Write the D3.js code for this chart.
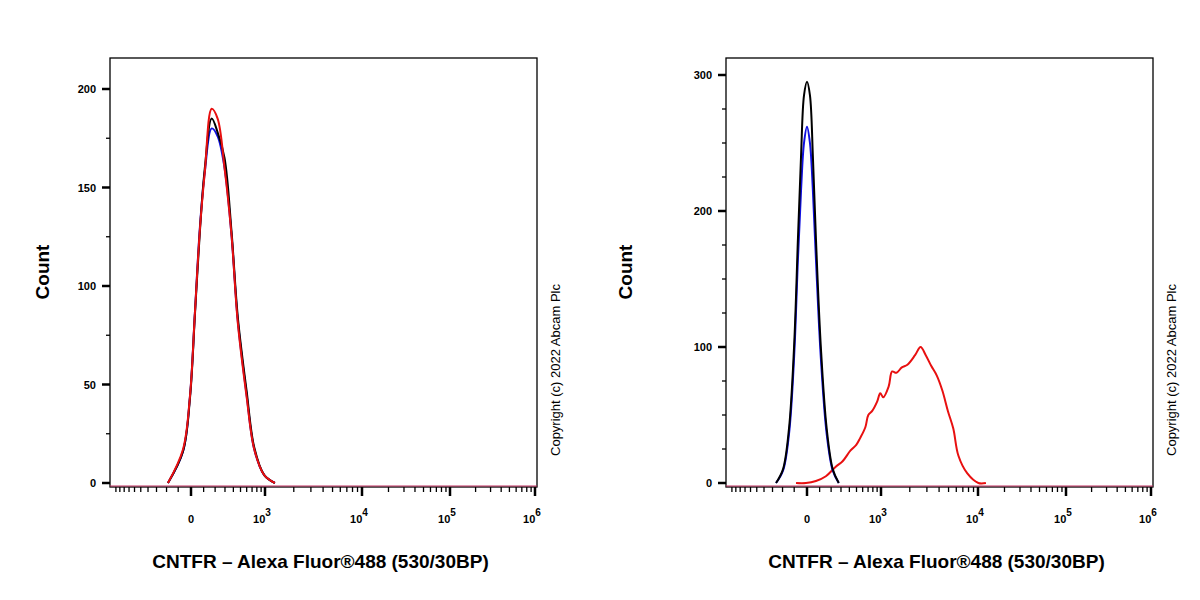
<!DOCTYPE html>
<html><head><meta charset="utf-8">
<script src="https://cdn.jsdelivr.net/npm/d3@7"></script>
<style>body{margin:0;background:#fff}</style></head>
<body><svg id="c" width="1200" height="600"></svg>
<script>
// Panel 1 histograms: [fluorescence, count]
const leftRed = [[-187,0],[-62,17],[-8,44],[31,87],[70,129],[110,158],[169,190],[224,185],[295,160],[376,126],[461,81],[598,44],[745,17],[980,4],[1272,0]];
const leftBlack = [[-187,0],[-62,16],[-8,43],[31,86],[70,128],[110,160],[169,185],[224,178],[295,165],[376,128],[461,84],[598,47],[745,18],[980,4],[1272,0]];
const leftBlue = [[-187,0],[-62,16],[-8,44],[31,87],[70,130],[110,158],[169,180],[224,176],[295,160],[376,126],[461,82],[598,45],[745,17],[980,4],[1272,0]];
// Panel 2 histograms
const rightBlack = [[-263,0],[-196,10],[-143,40],[-101,100],[-70,180],[-46,240],[-23,285],[0,295],[23,285],[46,240],[70,180],[110,100],[160,40],[216,10],[276,0]];
const rightBlue = [[-263,0],[-196,9],[-143,36],[-101,92],[-70,165],[-46,215],[-23,250],[0,262],[23,250],[46,215],[70,165],[110,92],[160,36],[216,9],[276,0]];
const rightRed = [[-85,0],[-8,0],[70,1.5],[153,5],[245,12],[318,16],[416,24],[496,28],[557,33],[648,41],[705,50],[786,53],[903,60],[980,66],[1056,63],[1206,71],[1311,82],[1452,81],[1656,85],[1890,87],[2267,94],[2583,100],[2920,94],[3330,86],[3790,79],[4320,68],[4920,53],[5590,40],[6310,20],[7780,7],[10100,0],[12300,0]];
const yTicksLeft = [0,50,100,150,200];
const yTicksRight = [0,100,200,300];
const xMajor = [0,1e3,1e4,1e5,1e6];
const xLabels = ["0","10|3","10|4","10|5","10|6"];
const xTitle = "CNTFR – Alexa Fluor®488 (530/30BP)";
const yTitle = "Count";
const copyright = "Copyright (c) 2022 Abcam Plc";

const svg = d3.select("#c");
const C = 300;
const T = v => Math.asinh(v / C);
const minor = [];
for (let m = 100; m <= 900; m += 100) { minor.push(m, -m); }
for (let e = 3; e < 6; e++) for (let k = 2; k <= 9; k++) minor.push(k * Math.pow(10, e));
minor.push(-1000);
const FONT = "Liberation Sans, Arial, sans-serif";

function panel(x0, countX, yMax, yMaxTick, yTicks, yMinorStep, series) {
  const x1 = x0 + 427, top = 58, bottom = 487;
  const xs = d3.scaleLinear().domain([-2.07, 0, T(1e3), T(1e4), T(1e5), T(1e6)])
    .range([x0, x0 + 81, x0 + 155, x0 + 252, x0 + 340, x0 + 425]);
  const x = v => xs(T(v));
  const ys = d3.scaleLinear().domain([0, yMaxTick]).range([483, 482 - (yMaxTick === 200 ? 393 : 407)]);
  const g = svg.append("g");
  g.append("rect").attr("x", x0).attr("y", top).attr("width", x1 - x0).attr("height", bottom - top)
    .attr("fill", "none").attr("stroke", "#000").attr("stroke-width", 1.3);
  for (let v = 0; v <= yMax; v += yMinorStep) {
    const maj = yTicks.includes(v);
    g.append("line").attr("x1", x0).attr("x2", x0 - (maj ? 8 : 4)).attr("y1", ys(v)).attr("y2", ys(v))
      .attr("stroke", "#000").attr("stroke-width", maj ? 2.5 : 1.3);
  }
  yTicks.forEach(v => g.append("text").attr("x", x0 - 14).attr("y", ys(v) + 4).attr("text-anchor", "end")
    .attr("font-family", FONT).attr("font-size", 11).attr("font-weight", "bold").attr("fill", "#000").text(v));
  minor.forEach(v => { if (T(v) >= -2.07) g.append("line").attr("x1", x(v)).attr("x2", x(v)).attr("y1", bottom).attr("y2", bottom + 5).attr("stroke", "#000").attr("stroke-width", 1.3); });
  xMajor.forEach((v, i) => {
    g.append("line").attr("x1", x(v)).attr("x2", x(v)).attr("y1", bottom).attr("y2", bottom + 9).attr("stroke", "#000").attr("stroke-width", 2.5);
    const parts = xLabels[i].split("|");
    const t = g.append("text").attr("x", x(v) + (parts[1] ? -3 : 0)).attr("y", 523).attr("text-anchor", "middle")
      .attr("font-family", FONT).attr("font-size", 11).attr("font-weight", "bold").attr("fill", "#000").text(parts[0]);
    if (parts[1]) t.append("tspan").attr("dy", -7).attr("font-size", 10).text(parts[1]);
  });
  const line = d3.line().x(d => x(d[0])).y(d => ys(d[1])).curve(d3.curveCatmullRom);
  g.append("line").attr("x1", x0).attr("x2", x1).attr("y1", 486).attr("y2", 486).attr("stroke", "#c03060").attr("stroke-width", 1);
  series.forEach(([data, col]) => g.append("path").attr("d", line(data)).attr("fill", "none").attr("stroke", col).attr("stroke-width", 2));
  g.append("text").attr("x", (x0 + x1) / 2 - 3).attr("y", 568).attr("text-anchor", "middle")
    .attr("font-family", FONT).attr("font-weight", "bold").attr("font-size", 19).attr("fill", "#000").text(xTitle);
  g.append("text").attr("transform", `translate(${countX},272) rotate(-90)`).attr("text-anchor", "middle")
    .attr("font-family", FONT).attr("font-weight", "bold").attr("font-size", 19).attr("fill", "#000").text(yTitle);
  g.append("text").attr("transform", `translate(${x1 + 23},370) rotate(-90)`).attr("text-anchor", "middle")
    .attr("font-family", FONT).attr("font-size", 13).attr("fill", "#000").text(copyright);
}
panel(110, 49, 215, 200, yTicksLeft, 25, [[leftBlue, "#1010e0"], [leftBlack, "#000"], [leftRed, "#e81010"]]);
panel(726, 632, 310, 300, yTicksRight, 25, [[rightRed, "#e81010"], [rightBlue, "#1010e0"], [rightBlack, "#000"]]);
</script></body></html>
